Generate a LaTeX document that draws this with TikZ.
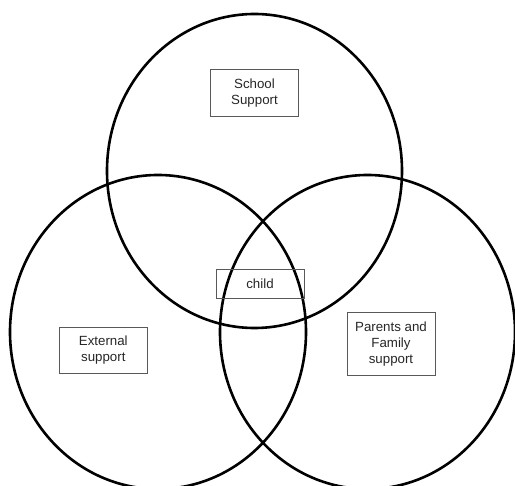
\documentclass[tikz,border=0pt]{standalone}
\usepackage{fontspec}
\setmainfont{Liberation Sans}
\usetikzlibrary{positioning}

\begin{document}
\begin{tikzpicture}[x=1pt, y=-1pt,
  ring/.style={line width=2.6pt},
  tag/.style={draw=black!65, line width=0.8pt, minimum width=88pt, align=center,
    font=\fontsize{13.3}{15.7}\selectfont, text=black!85}]
\useasboundingbox (0,0) rectangle (515,486);
\clip (0,0) rectangle (515,486);

%circles
\draw[ring] (254.5,171) ellipse [x radius=147.5pt, y radius=157pt];
\draw[ring] (158,332) ellipse [x radius=148pt, y radius=157pt];
\draw[ring] (367.5,332) ellipse [x radius=147.5pt, y radius=157pt];

%labels
\node[tag, minimum height=46.6pt] (school) at (254.5,93) {School\\Support};
\node[tag, minimum height=29.7pt] (child) at (260,284) {child};
\node[tag, minimum height=46pt] (external) at (103.3,350.3) {External\\support};
\node[tag, minimum height=63pt] (family) at (391,344) {Parents and\\Family\\support};
\end{tikzpicture}
\end{document}
